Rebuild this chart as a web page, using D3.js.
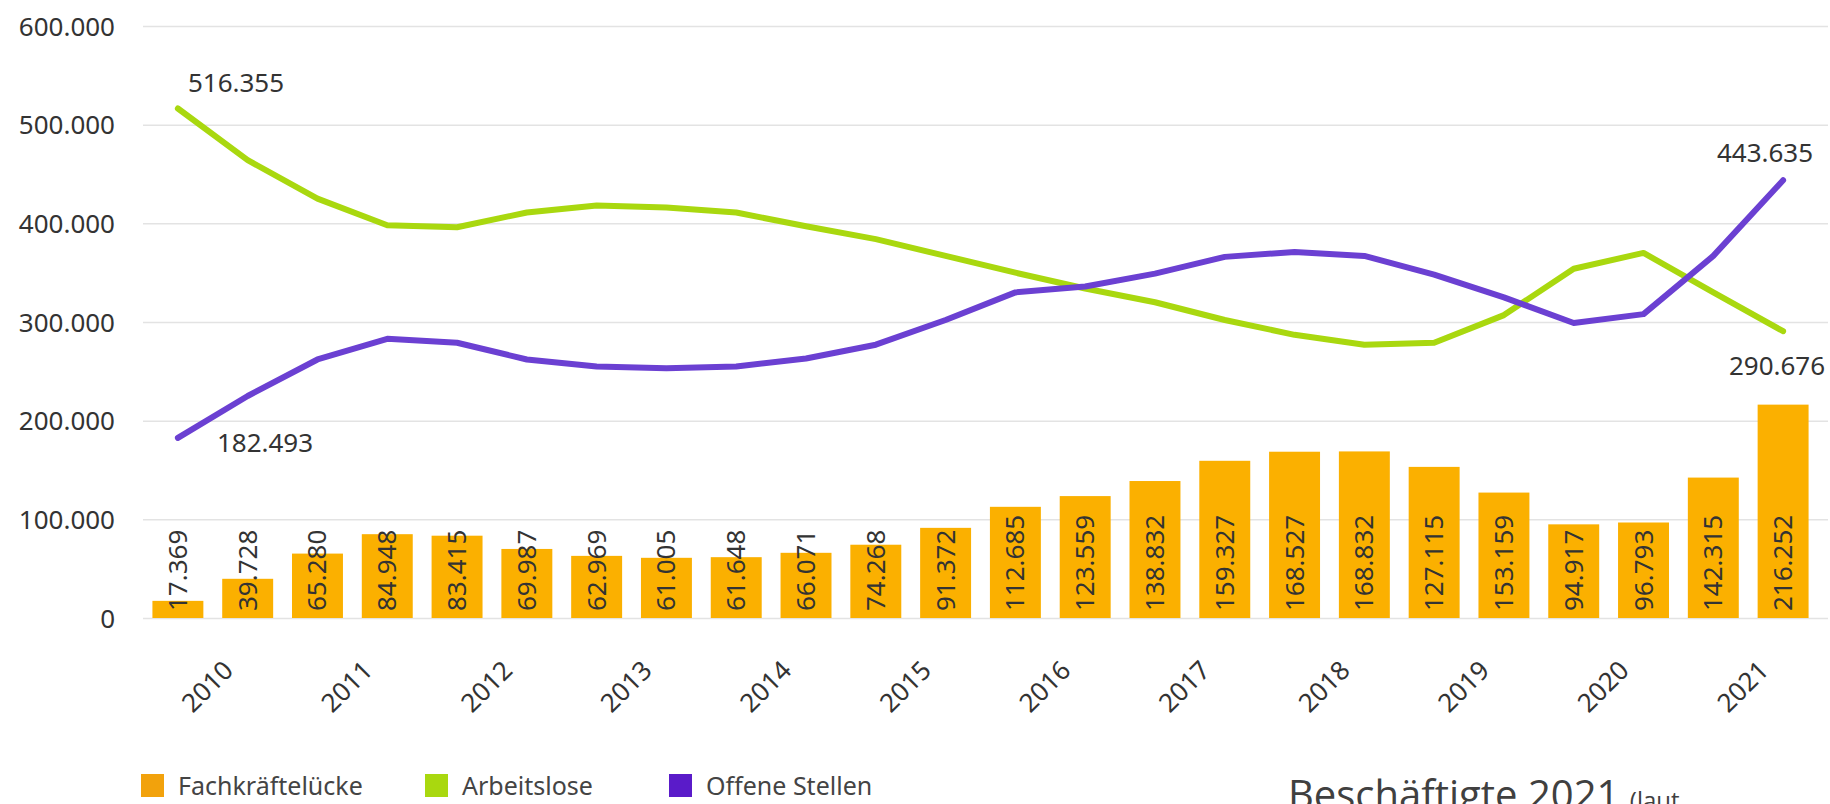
<!DOCTYPE html>
<html>
<head>
<meta charset="utf-8">
<script src="https://cdn.jsdelivr.net/npm/d3@7"></script>
<style>
  html, body { margin: 0; padding: 0; background: #fff; }
  svg { display: block; }
  .tick-label { font-family: "Noto Sans", sans-serif; font-size: 26px; fill: #333; }
  .legend-text { font-family: "Noto Sans", sans-serif; font-size: 25px; fill: #444; }
</style>
</head>
<body>
<div id="chart"></div>
<script>
// half-year periods, two per year
const years = [2010, 2011, 2012, 2013, 2014, 2015, 2016, 2017, 2018, 2019, 2020, 2021];

// Fachkräftelücke: printed labels and bar heights as drawn (18/19 appear swapped in the source)
const gapLabels = [17369, 39728, 65280, 84948, 83415, 69987, 62969, 61005, 61648, 66071, 74268, 91372,
  112685, 123559, 138832, 159327, 168527, 168832, 127115, 153159, 94917, 96793, 142315, 216252];
const gapHeights = [17369, 39728, 65280, 84948, 83415, 69987, 62969, 61005, 61648, 66071, 74268, 91372,
  112685, 123559, 138832, 159327, 168527, 168832, 153159, 127115, 94917, 96793, 142315, 216252];

const arbeitslose = [516355, 464000, 425000, 398000, 396000, 411000, 418000, 416000, 411000, 397000, 384000, 367000,
  350000, 334000, 320000, 302000, 287000, 277000, 279000, 307000, 354000, 370000, 330000, 290676];
const offeneStellen = [182493, 225000, 262000, 283000, 279000, 262000, 255000, 253000, 255000, 263000, 277000, 302000,
  330000, 336000, 349000, 366000, 371000, 367000, 348000, 325000, 299000, 308000, 367000, 443635];

const yTicks = [0, 100000, 200000, 300000, 400000, 500000, 600000];

const colors = { gap: '#FBB000', gapKey: '#F2A20C', arbeitslose: '#A9D80F', offene: '#6B40D2', offeneKey: '#5A1BC9' };

const width = 1830, height = 804;
const de = d3.formatLocale({ decimal: ',', thousands: '.', grouping: [3], currency: ['', '€'] });
const fmt = de.format(',');

const svg = d3.select('#chart')
  .append('svg')
  .attr('width', width)
  .attr('height', height);

const idx = d3.range(gapHeights.length);

const x = d3.scaleBand(idx, [143, 1818])
  .paddingInner(0.27)
  .paddingOuter(0.135);
const xYear = d3.scaleBand(years, [143, 1818]);
const y = d3.scaleLinear([0, 600000], [618, 26]);
const cx = i => x(i) + x.bandwidth() / 2;

/* gridlines + y labels */
const yAxis = d3.axisLeft(y)
  .tickValues(yTicks)
  .tickSize(-(1828 - 143))
  .tickPadding(28)
  .tickFormat(fmt);
svg.append('g')
  .attr('transform', 'translate(143,0)')
  .call(yAxis)
  .call(g => g.select('.domain').remove())
  .call(g => g.selectAll('.tick line').attr('stroke', '#e3e3e3').attr('stroke-width', 1.5))
  .call(g => g.selectAll('.tick text').attr('class', 'tick-label').attr('font-size', 27).attr('dy', '0.35em'));

/* bars */
svg.append('g')
  .selectAll('rect')
  .data(idx)
  .join('rect')
  .attr('x', i => x(i))
  .attr('width', x.bandwidth())
  .attr('y', i => y(gapHeights[i]))
  .attr('height', i => y(0) - y(gapHeights[i]))
  .attr('fill', colors.gap);

svg.append('g')
  .selectAll('text')
  .data(idx)
  .join('text')
  .attr('class', 'tick-label')
  .attr('fill', '#222')
  .attr('transform', i => `translate(${cx(i) + 9},${y(0) - 7}) rotate(-90)`)
  .text(i => fmt(gapLabels[i]));

/* lines */
const line = d3.line()
  .x((d, i) => cx(i))
  .y(d => y(d));

svg.append('path')
  .datum(arbeitslose)
  .attr('d', line)
  .attr('fill', 'none')
  .attr('stroke', colors.arbeitslose)
  .attr('stroke-width', 6)
  .attr('stroke-linejoin', 'round')
  .attr('stroke-linecap', 'round');

svg.append('path')
  .datum(offeneStellen)
  .attr('d', line)
  .attr('fill', 'none')
  .attr('stroke', colors.offene)
  .attr('stroke-width', 6)
  .attr('stroke-linejoin', 'round')
  .attr('stroke-linecap', 'round');

/* end labels */
const last = idx.length - 1;
const notes = [
  { v: arbeitslose[0], x: cx(0) + 10, y: y(arbeitslose[0]) - 17, anchor: 'start' },
  { v: offeneStellen[0], x: cx(0) + 39, y: y(offeneStellen[0]) + 14, anchor: 'start' },
  { v: offeneStellen[last], x: cx(last) + 30, y: y(offeneStellen[last]) - 18, anchor: 'end' },
  { v: arbeitslose[last], x: cx(last) + 42, y: y(arbeitslose[last]) + 44, anchor: 'end' }
];
svg.append('g')
  .selectAll('text')
  .data(notes)
  .join('text')
  .attr('class', 'tick-label')
  .attr('x', d => d.x)
  .attr('y', d => d.y)
  .attr('text-anchor', d => d.anchor)
  .text(d => fmt(d.v));

/* x axis (years, rotated) */
const xAxis = d3.axisBottom(xYear)
  .tickSize(0)
  .tickPadding(0);
svg.append('g')
  .attr('transform', `translate(0,${y(0)})`)
  .call(xAxis)
  .call(g => g.select('.domain').remove())
  .call(g => g.selectAll('.tick text')
    .attr('class', 'tick-label')
    .attr('y', null)
    .attr('dy', null)
    .attr('text-anchor', 'end')
    .attr('transform', 'translate(22,54) rotate(-45)'));

/* legend */
const legend = [
  { name: 'Fachkräftelücke', color: colors.gapKey, x: 141 },
  { name: 'Arbeitslose', color: colors.arbeitslose, x: 425 },
  { name: 'Offene Stellen', color: colors.offeneKey, x: 669 }
];
const lg = svg.append('g').selectAll('g').data(legend).join('g')
  .attr('transform', d => `translate(${d.x},774)`);
lg.append('rect').attr('width', 23).attr('height', 23).attr('fill', d => d.color);
lg.append('text').attr('class', 'legend-text').attr('x', 37).attr('y', 21).text(d => d.name);

/* stray caption at the bottom edge */
const cap = svg.append('text')
  .attr('x', 1288)
  .attr('y', 809)
  .attr('font-family', '"Open Sans", sans-serif')
  .attr('fill', '#404040');
cap.append('tspan').attr('font-size', 40).text('Beschäftigte 2021 ');
cap.append('tspan').attr('font-size', 24).text('(laut');
</script>
</body>
</html>
